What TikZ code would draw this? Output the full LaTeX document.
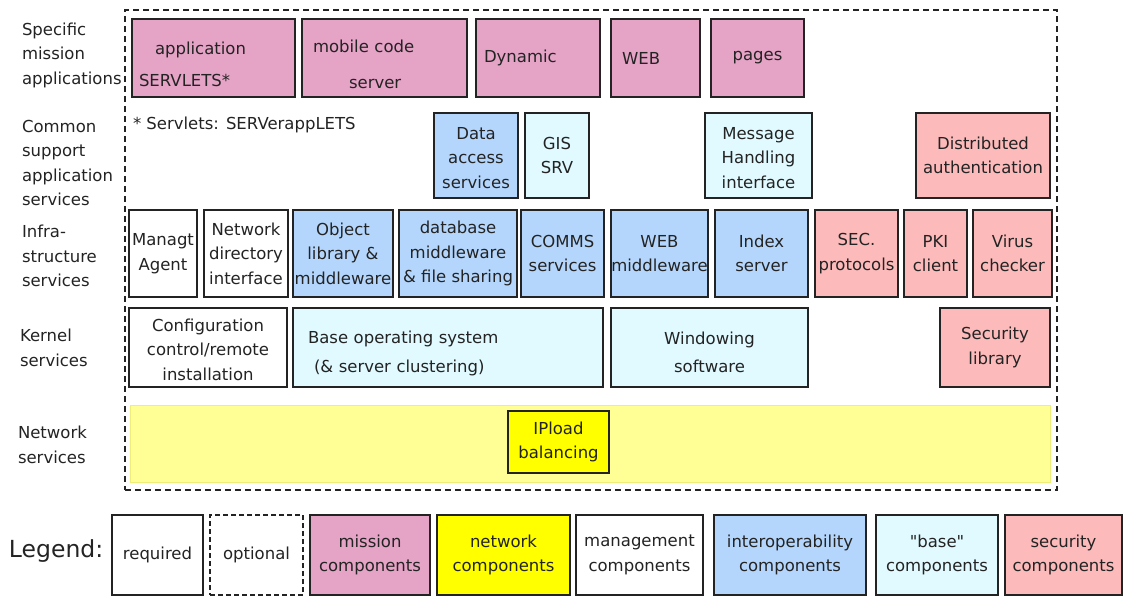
\documentclass[tikz,border=0pt]{standalone}
\usepackage{fontspec}
\setmainfont{DejaVu Sans}[Ligatures=TeXOff]
\usetikzlibrary{positioning}
\definecolor{missionPink}{RGB}{229,163,198}
\definecolor{interopBlue}{RGB}{180,214,252}
\definecolor{baseCyan}{RGB}{224,250,255}
\definecolor{securityRed}{RGB}{252,186,186}
\definecolor{networkYellow}{RGB}{255,255,0}
\definecolor{networkBand}{RGB}{255,255,150}
\definecolor{bandEdge}{RGB}{238,238,120}
\definecolor{boxBorder}{RGB}{35,35,35}
\definecolor{textDark}{RGB}{35,35,35}

\begin{document}
\begin{tikzpicture}[
        x=1pt, y=-1pt,
        txt/.style={font=\fontsize{16.5}{24.5}\selectfont, text=textDark, inner sep=0pt, outer sep=0pt},
        comp/.style={txt, rectangle, draw=boxBorder, line width=1.3pt, align=center, anchor=north west},
        sz/.style 2 args={minimum width=#1, minimum height=#2},
        flushl/.style={align=left, text width=#1},
        mission/.style={comp, fill=missionPink},
        interop/.style={comp, fill=interopBlue},
        base/.style={comp, fill=baseCyan},
        security/.style={comp, fill=securityRed},
        mgmt/.style={comp, fill=white},
        netw/.style={comp, fill=networkYellow},
        band/.style={comp, draw=bandEdge, line width=1pt, fill=networkBand},
        layer/.style={txt, anchor=west, align=left},
        frame/.style={rectangle, draw=boxBorder, line width=1.3pt, dash pattern=on 6pt off 4pt, anchor=north west, outer sep=0pt}
    ]
        \useasboundingbox (0,0) rectangle (1123,596);

        % Outer (optional) frame
        \node[frame, sz={932pt}{480pt}] (scopebox) at (125,10) {};

        % Layer labels
        \node[layer] (lyrmission) at (22,55) {Specific\\mission\\applications};
        \node[layer] (lyrsupport) at (22,163) {Common\\support\\application\\services};
        \node[layer] (lyrinfra) at (22,256) {Infra-\\structure\\services};
        \node[layer] (lyrkernel) at (20,348) {Kernel\\services};
        \node[layer] (lyrnetwork) at (18,445) {Network\\services};

        % Specific mission applications
        \node[mission, sz={163pt}{78pt}, flushl={149pt}] (servlets) at (132,19) {\rule{0pt}{25pt}\hspace{16pt}application\\[8pt]SERVLETS*};
        \node[mission, sz={165pt}{78pt}, flushl={143pt}, right=7pt of servlets] (mobcode) {\rule{0pt}{25pt}mobile code\\[12pt]\hspace{36pt}server};
        \node[mission, sz={124pt}{78pt}, flushl={108pt}, right=9pt of mobcode] (dynamic) {Dynamic};
        \node[mission, sz={89pt}{78pt}, flushl={67pt}, right=11pt of dynamic] (webpg) {WEB};
        \node[mission, sz={93pt}{78pt}, right=11pt of webpg] (pages) {pages};

        % Common support application services
        \node[txt, anchor=west] (note) at (133,125) {* Servlets: SERVerappLETS};
        \node[interop, sz={84pt}{85pt}] (dataacc) at (434,113) {\rule{0pt}{17pt}Data\\access\\services};
        \node[base, sz={64pt}{85pt}, right=7pt of dataacc] (gissrv) {GIS\\SRV};
        \node[base, sz={107pt}{85pt}] (msghandl) at (705,113) {\rule{0pt}{17pt}Message\\Handling\\interface};
        \node[security, sz={134pt}{85pt}] (distauth) at (916,113) {Distributed\\authentication};

        % Infrastructure services
        \node[mgmt, sz={68pt}{87pt}] (managt) at (129,210) {Managt\\Agent};
        \node[mgmt, sz={84pt}{87pt}, right=7pt of managt] (netdir) {Network\\directory\\interface};
        \node[interop, sz={100pt}{87pt}, right=5pt of netdir] (objlib) {Object\\library \&\\middleware};
        \node[interop, sz={118pt}{87pt}, right=6pt of objlib] (dbmw) {database\\middleware\\\& file sharing};
        \node[interop, sz={83pt}{87pt}, right=4pt of dbmw] (comms) {COMMS\\services};
        \node[interop, sz={97pt}{87pt}, right=7pt of comms] (webmw) {WEB\\middleware};
        \node[interop, sz={93pt}{87pt}, right=7pt of webmw] (idxsrv) {Index\\server};
        \node[security, sz={83pt}{87pt}, right=7pt of idxsrv] (secprot) {SEC.\\protocols};
        \node[security, sz={63pt}{87pt}, right=6pt of secprot] (pkicl) {PKI\\client};
        \node[security, sz={79pt}{87pt}, right=6pt of pkicl] (virus) {Virus\\checker};

        % Kernel services
        \node[mgmt, sz={158pt}{79pt}] (config) at (129,308) {\rule{0pt}{17pt}Configuration\\control/remote\\installation};
        \node[base, sz={310pt}{79pt}, flushl={280pt}] (baseos) at (293,308) {\rule{0pt}{24pt}Base operating system\\[4pt]\hspace{6pt}(\& server clustering)};
        \node[base, sz={197pt}{79pt}] (winsw) at (611,308) {\rule{0pt}{22pt}Windowing\\[4pt]software};
        \node[security, sz={110pt}{79pt}] (seclib) at (940,308) {Security\\library};

        % Network services
        \node[band, sz={920pt}{77pt}] (netband) at (130,405) {};
        \node[netw, sz={101pt}{62pt}] (iplb) at (508,411) {IPload\\balancing};

        % Legend
        \node[txt, anchor=west, font=\fontsize{23.5}{28}\selectfont] (legend) at (9,551) {Legend:};
        \node[mgmt, sz={91pt}{80pt}] (lreq) at (112,515) {required};
        \node[mgmt, sz={93pt}{80pt}, dash pattern=on 5pt off 3pt] (lopt) at (210,515) {optional};
        \node[mission, sz={120pt}{80pt}] (lmis) at (310,515) {mission\\components};
        \node[netw, sz={133pt}{80pt}] (lnet) at (437,515) {network\\components};
        \node[mgmt, sz={127pt}{80pt}] (lmgt) at (576,515) {management\\components};
        \node[interop, sz={152pt}{80pt}] (lint) at (714,515) {interoperability\\components};
        \node[base, sz={122pt}{80pt}] (lbas) at (876,515) {"base"\\components};
        \node[security, sz={117pt}{80pt}] (lsec) at (1005,515) {security\\components};
    \end{tikzpicture}
\end{document}
